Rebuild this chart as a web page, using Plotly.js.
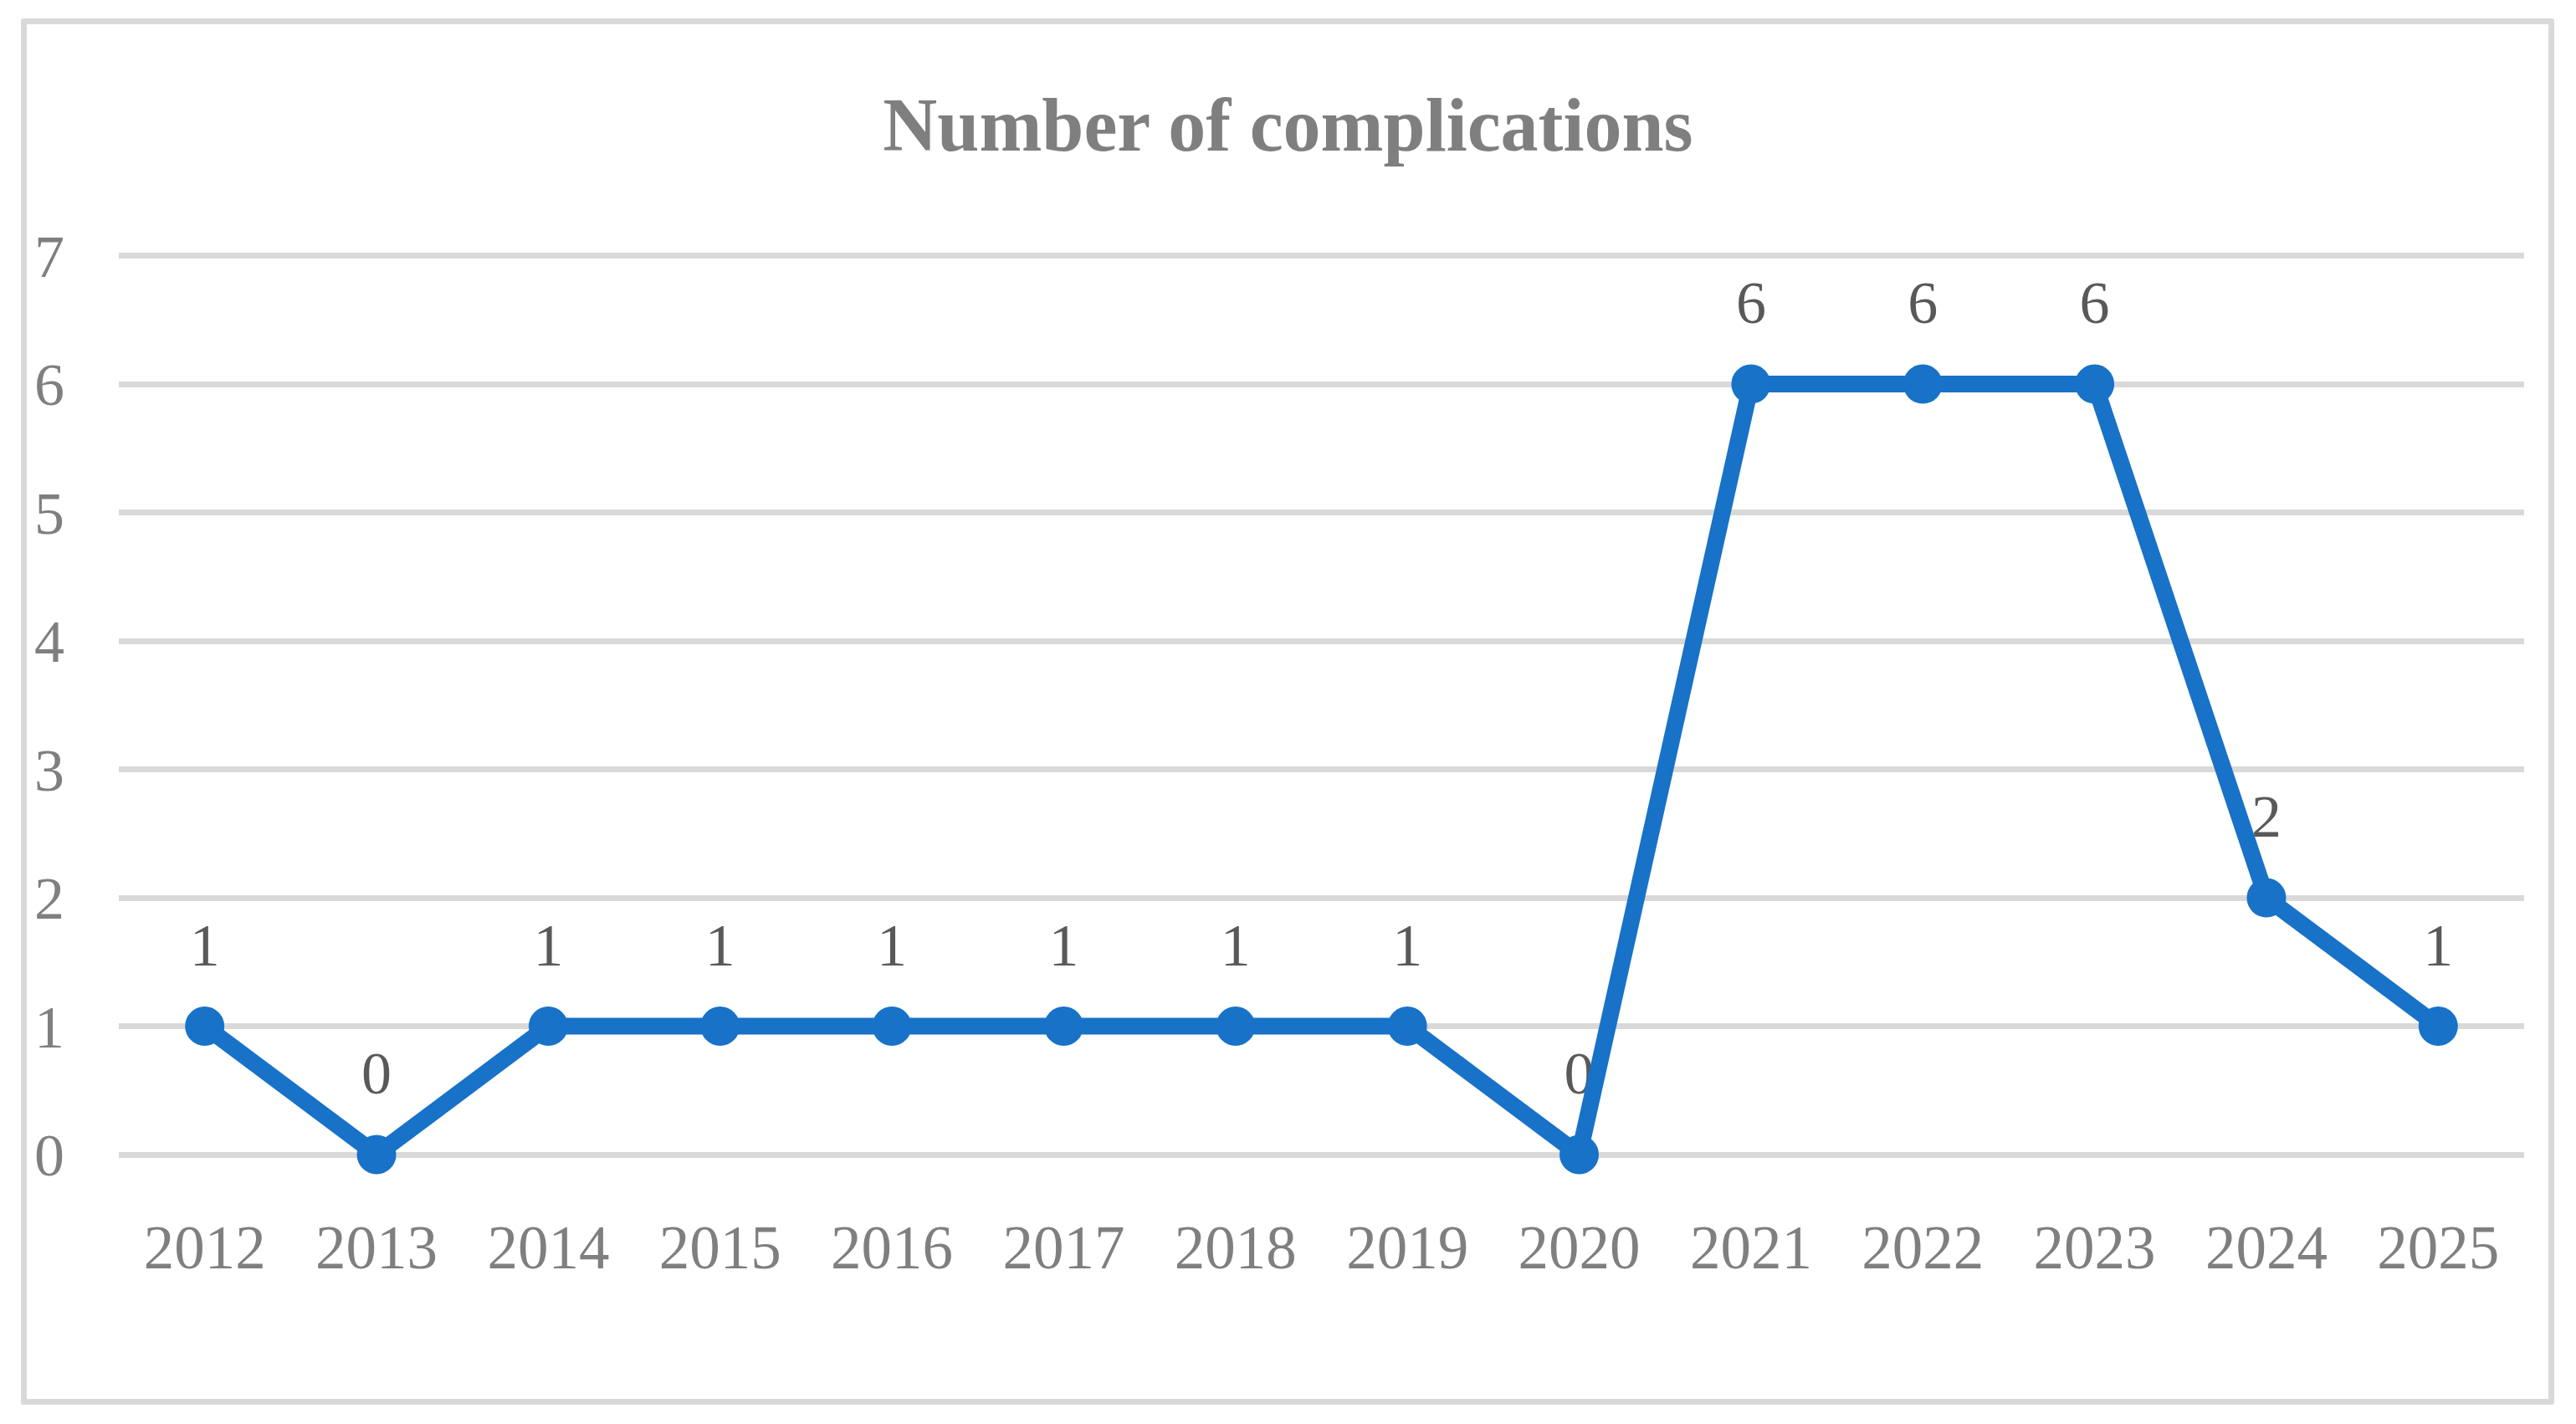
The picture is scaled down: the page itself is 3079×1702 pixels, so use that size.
<!DOCTYPE html>
<html>
<head>
<meta charset="utf-8">
<script src="https://cdn.plot.ly/plotly-3.0.1.min.js"></script>
<style>
html,body{margin:0;padding:0;background:#fff;}
#chart{position:absolute;left:0;top:0;width:3079px;height:1702px;}
#frame{position:absolute;left:25px;top:22px;width:3014px;height:1643px;border:7px solid #d9d9d9;border-radius:3px;pointer-events:none;}
</style>
</head>
<body>
<div id="chart"></div>
<div id="frame"></div>
<script>
const years = ["2012","2013","2014","2015","2016","2017","2018","2019","2020","2021","2022","2023","2024","2025"];
const complications = [1,0,1,1,1,1,1,1,0,6,6,6,2,1];
const yTicks = [0,1,2,3,4,5,6,7];

const FONT = "Liberation Serif, Times New Roman, serif";
const BLUE = "#1772c8";

const lineTrace = {
  x: years,
  y: complications,
  type: "scatter",
  mode: "lines+markers",
  line: {color: BLUE, width: 20},
  marker: {color: BLUE, size: 47},
  hoverinfo: "x+y",
  cliponaxis: false
};

const labelTrace = {
  x: years,
  y: complications,
  type: "scatter",
  mode: "markers+text",
  text: complications.map(String),
  textposition: "top center",
  textfont: {family: FONT, size: 72, color: "#595959"},
  marker: {color: "rgba(0,0,0,0)", size: 86},
  hoverinfo: "skip",
  cliponaxis: false
};

const layout = {
  width: 3079,
  height: 1702,
  margin: {l: 142, r: 62, t: 304, b: 322, pad: 0},
  paper_bgcolor: "#ffffff",
  plot_bgcolor: "#ffffff",
  showlegend: false,
  title: {
    text: "<b>Number of complications</b>",
    font: {family: FONT, size: 90, color: "#7f7f7f"},
    x: 0.5,
    xanchor: "center",
    xref: "container",
    y: 1 - 148/1702,
    yref: "container",
    yanchor: "middle"
  },
  xaxis: {
    type: "category",
    categoryorder: "array",
    categoryarray: years,
    range: [-0.5, years.length - 0.5],
    showgrid: false,
    zeroline: false,
    showline: false,
    ticks: "",
    ticklabelstandoff: 62,
    tickfont: {family: FONT, size: 73, color: "#7f7f7f"},
    fixedrange: true
  },
  yaxis: {
    range: [0, 7.01],
    tickvals: yTicks,
    ticktext: yTicks.map(String),
    showgrid: true,
    gridcolor: "#d9d9d9",
    gridwidth: 7,
    zeroline: true,
    zerolinecolor: "#d9d9d9",
    zerolinewidth: 7,
    showline: false,
    ticks: "",
    ticklabelstandoff: 64,
    tickfont: {family: FONT, size: 72, color: "#7f7f7f"},
    fixedrange: true
  }
};

Plotly.newPlot("chart", [labelTrace, lineTrace], layout, {displayModeBar: false, staticPlot: true});
</script>
</body>
</html>
